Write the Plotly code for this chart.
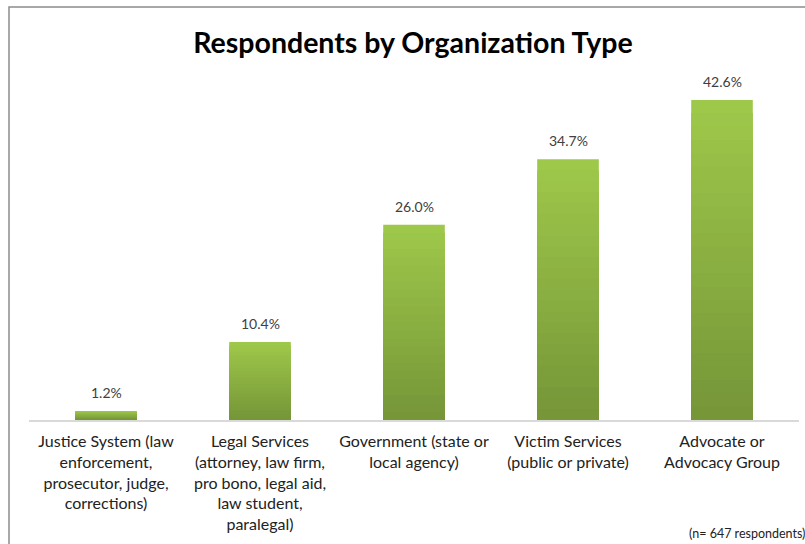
import plotly.graph_objects as go

categories = [
    "Justice System (law<br>enforcement,<br>prosecutor, judge,<br>corrections)",
    "Legal Services<br>(attorney, law firm,<br>pro bono, legal aid,<br>law student,<br>paralegal)",
    "Government (state or<br>local agency)",
    "Victim Services<br>(public or private)",
    "Advocate or<br>Advocacy Group",
]
values = [1.2, 10.4, 26.0, 34.7, 42.6]
labels = [f"{v:.1f}%" for v in values]

FONT = "Lato"
light = (158, 200, 74)
dark = (118, 150, 56)
N = 24

fig = go.Figure()
for k in range(N):
    t = k / (N - 1)
    c = tuple(round(light[i] + (dark[i] - light[i]) * t) for i in range(3))
    frac = (N - k) / N
    fig.add_trace(go.Bar(
        x=categories, y=[v * frac for v in values], width=0.4,
        marker=dict(color=f"rgb{c}", line=dict(width=0)),
        hoverinfo="skip", showlegend=False,
    ))

annotations = [
    dict(x=c, y=v, text=lab, xref="x", yref="y", showarrow=False,
         yanchor="bottom", yshift=8,
         font=dict(family=FONT, size=14, color="#404040"))
    for c, v, lab in zip(categories, values, labels)
]
annotations.append(dict(text="(n= 647 respondents)", xref="paper", yref="paper",
                        x=1 + 8 / 770, y=-(533 - 420) / 338, xanchor="right", yanchor="middle",
                        showarrow=False, font=dict(family=FONT, size=12.5, color="#222")))

fig.update_layout(
    width=805, height=544,
    margin=dict(l=29, r=6, t=82, b=124),
    barmode="overlay",
    paper_bgcolor="white", plot_bgcolor="white",
    title=dict(text="<b>Respondents by Organization Type</b>", x=0.513, xanchor="center",
               y=1 - 43 / 544, yanchor="middle",
               font=dict(family=FONT, size=28.5, color="black")),
    xaxis=dict(showline=True, linecolor="#d9d9d9", linewidth=1.5, ticks="",
               tickfont=dict(family=FONT, size=16, color="#222"), ticklabelstandoff=6),
    yaxis=dict(visible=False, range=[0, 45]),
    annotations=annotations,
    shapes=[dict(type="rect", xref="paper", yref="paper",
                 x0=-(29 - 9) / 770, x1=1.5, y0=-1.0, y1=1 + (82 - 7) / 338,
                 line=dict(color="#8c8c8c", width=1.5), fillcolor="rgba(0,0,0,0)", layer="below")],
)

fig.write_html("out.html")
